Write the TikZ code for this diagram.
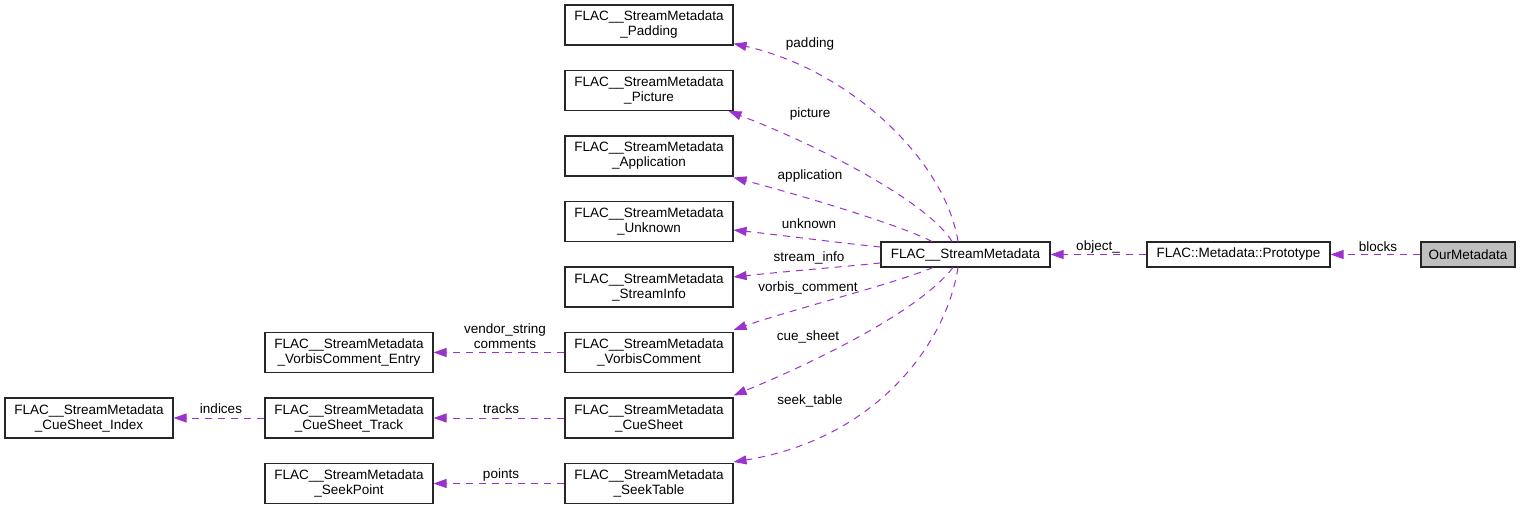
\documentclass[tikz,border=0pt]{standalone}
\usepackage{fontspec}
\setmainfont{Liberation Sans}
\usetikzlibrary{arrows.meta}
\definecolor{edgec}{HTML}{9A32CD}
\definecolor{boxgray}{HTML}{BFBFBF}
\tikzset{
  cls/.style={draw=black!85, line width=1.1pt, minimum width=168pt, minimum height=40pt, inner sep=0pt, align=center, font=\fontsize{13.5}{15}\selectfont},
  one/.style={draw=black!85, line width=1.1pt, minimum height=25pt, inner sep=0pt, align=center, font=\fontsize{13.5}{15}\selectfont},
  rel/.style={draw=edgec, line width=1pt, dash pattern=on 7pt off 6pt, -{Triangle[length=13pt,width=9pt]}},
  lbl/.style={inner sep=0pt, align=center, font=\fontsize{13.5}{14.5}\selectfont}
}
\begin{document}
\begin{tikzpicture}[x=1pt,y=-1pt]
\useasboundingbox (0,0) rectangle (1525,508);
% member classes
\node[cls] (pad) at (649,25) {FLAC\_\_StreamMetadata\\\_Padding};
\node[cls] (pic) at (649,90.5) {FLAC\_\_StreamMetadata\\\_Picture};
\node[cls] (app) at (649,156) {FLAC\_\_StreamMetadata\\\_Application};
\node[cls] (unk) at (649,221.5) {FLAC\_\_StreamMetadata\\\_Unknown};
\node[cls] (si) at (649,287) {FLAC\_\_StreamMetadata\\\_StreamInfo};
\node[cls] (vc) at (649,352.5) {FLAC\_\_StreamMetadata\\\_VorbisComment};
\node[cls] (cs) at (649,418) {FLAC\_\_StreamMetadata\\\_CueSheet};
\node[cls] (st) at (649,483.5) {FLAC\_\_StreamMetadata\\\_SeekTable};
\node[cls] (vce) at (349,352.5) {FLAC\_\_StreamMetadata\\\_VorbisComment\_Entry};
\node[cls] (cst) at (349,418) {FLAC\_\_StreamMetadata\\\_CueSheet\_Track};
\node[cls] (sp) at (349,483.5) {FLAC\_\_StreamMetadata\\\_SeekPoint};
\node[cls] (csi) at (89,418) {FLAC\_\_StreamMetadata\\\_CueSheet\_Index};
% main chain
\node[one, minimum width=169pt] (main) at (965.5,254.5) {FLAC\_\_StreamMetadata};
\node[one, minimum width=183pt] (proto) at (1238.5,254.5) {FLAC::Metadata::Prototype};
\node[one, minimum width=94pt, fill=boxgray] (our) at (1468,254.5) {OurMetadata};
% edges from main
\draw[rel] ([xshift=-7.5pt]main.north) .. controls (945,160) and (850,70) .. ([yshift=2pt]pad.south east);
\draw[rel] ([xshift=-13.5pt]main.north) .. controls (930,205) and (830,150) .. ([xshift=-5pt]pic.south east);
\draw[rel] ([xshift=-33.5pt]main.north) .. controls (900,225) and (800,195) .. ([yshift=-1pt]app.south east);
\draw[rel] ([yshift=7.5pt]main.west) .. controls (840,243) and (780,235) .. ([yshift=-8.5pt]unk.east);
\draw[rel] ([yshift=-8.5pt]main.west) .. controls (840,267) and (780,272) .. ([yshift=10pt]si.east);
\draw[rel] ([xshift=-32.5pt]main.south) .. controls (890,285) and (790,310) .. ([yshift=2pt]vc.north east);
\draw[rel] ([xshift=-12.5pt]main.south) .. controls (920,310) and (820,360) .. ([yshift=2pt]cs.north east);
\draw[rel] ([xshift=-7.5pt]main.south) .. controls (945,350) and (870,440) .. ([yshift=1pt]st.north east);
% labels
\node[lbl] (lpad) at (810,44) {padding};
\node[lbl] (lpic) at (810,114) {picture};
\node[lbl] (lapp) at (810,176) {application};
\node[lbl] (lunk) at (809,224) {unknown};
\node[lbl] (lsi) at (809,258) {stream\_info};
\node[lbl] (lvc) at (808,288) {vorbis\_comment};
\node[lbl] (lcs) at (808,337) {cue\_sheet};
\node[lbl] (lst) at (810,401) {seek\_table};
% second level
\draw[rel] (vc.west) -- (vce.east);
\node[lbl] (lvce) at (505,336) {vendor\_string\\comments};
\draw[rel] (cs.west) -- (cst.east);
\node[lbl] (lcst) at (501,409) {tracks};
\draw[rel] (cst.west) -- (csi.east);
\node[lbl] (lcsi) at (221,409) {indices};
\draw[rel] (st.west) -- (sp.east);
\node[lbl] (lsp) at (501,475) {points};
% chain
\draw[rel] (proto.west) -- (main.east);
\node[lbl] (lobj) at (1098,247) {object\_};
\draw[rel] (our.west) -- (proto.east);
\node[lbl] (lblk) at (1378,247) {blocks};
\end{tikzpicture}
\end{document}
